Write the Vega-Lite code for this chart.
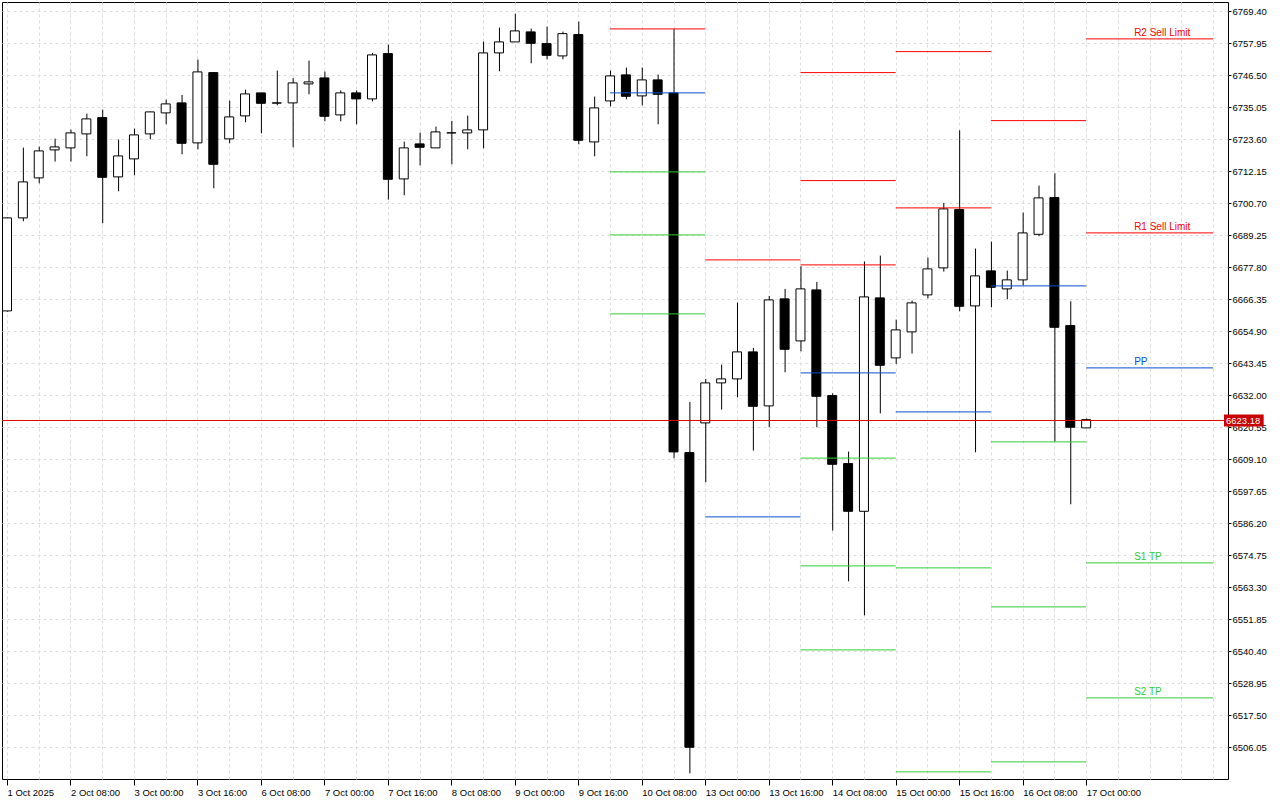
{
  "$schema": "https://vega.github.io/schema/vega-lite/v6.json",
  "width": 1226,
  "height": 777,
  "autosize": {"type": "none"},
  "padding": {"left": 2, "top": 2, "right": 52, "bottom": 21},
  "background": "white",
  "config": {
    "view": {"stroke": "black", "strokeWidth": 1},
    "axis": {"labelFont": "Liberation Sans", "labelFontSize": 9.5, "labelColor": "black", "tickColor": "black", "domain": false}
  },
  "datasets": {
    "candles": [
      {"i":0,"t":"2025-10-01 16:00","o":6662.09,"h":6695.50,"l":6661.84,"c":6695.37},
      {"i":1,"t":"2025-10-01 20:00","o":6695.37,"h":6720.52,"l":6694.15,"c":6708.25},
      {"i":2,"t":"2025-10-02 00:00","o":6709.68,"h":6720.88,"l":6707.75,"c":6719.34},
      {"i":3,"t":"2025-10-02 04:00","o":6719.70,"h":6723.74,"l":6715.51,"c":6720.77},
      {"i":4,"t":"2025-10-02 08:00","o":6720.42,"h":6726.96,"l":6715.51,"c":6725.78},
      {"i":5,"t":"2025-10-02 12:00","o":6725.43,"h":6732.69,"l":6717.41,"c":6730.79},
      {"i":6,"t":"2025-10-02 16:00","o":6731.26,"h":6734.12,"l":6693.44,"c":6709.90},
      {"i":7,"t":"2025-10-02 20:00","o":6710.04,"h":6723.39,"l":6704.89,"c":6717.55},
      {"i":8,"t":"2025-10-03 00:00","o":6716.48,"h":6727.32,"l":6710.61,"c":6725.07},
      {"i":9,"t":"2025-10-03 04:00","o":6725.43,"h":6733.41,"l":6723.49,"c":6733.30},
      {"i":10,"t":"2025-10-03 08:00","o":6732.94,"h":6737.70,"l":6728.86,"c":6736.16},
      {"i":11,"t":"2025-10-03 12:00","o":6736.52,"h":6739.38,"l":6718.13,"c":6722.06},
      {"i":12,"t":"2025-10-03 16:00","o":6722.21,"h":6752.01,"l":6719.92,"c":6747.61},
      {"i":13,"t":"2025-10-03 20:00","o":6747.36,"h":6747.36,"l":6705.96,"c":6714.55},
      {"i":14,"t":"2025-10-06 00:00","o":6723.64,"h":6737.34,"l":6722.06,"c":6731.51},
      {"i":15,"t":"2025-10-06 04:00","o":6731.87,"h":6741.28,"l":6729.58,"c":6739.74},
      {"i":16,"t":"2025-10-06 08:00","o":6740.10,"h":6740.10,"l":6725.64,"c":6736.37},
      {"i":17,"t":"2025-10-06 12:00","o":6736.52,"h":6748.08,"l":6735.66,"c":6736.45},
      {"i":18,"t":"2025-10-06 16:00","o":6736.52,"h":6745.46,"l":6720.63,"c":6743.67},
      {"i":19,"t":"2025-10-06 20:00","o":6743.32,"h":6751.65,"l":6739.60,"c":6744.03},
      {"i":20,"t":"2025-10-07 00:00","o":6745.46,"h":6747.72,"l":6729.93,"c":6731.72},
      {"i":21,"t":"2025-10-07 04:00","o":6732.22,"h":6741.03,"l":6729.93,"c":6740.10},
      {"i":22,"t":"2025-10-07 08:00","o":6740.10,"h":6741.03,"l":6728.86,"c":6737.95},
      {"i":23,"t":"2025-10-07 12:00","o":6737.95,"h":6754.41,"l":6737.09,"c":6753.69},
      {"i":24,"t":"2025-10-07 16:00","o":6754.16,"h":6757.38,"l":6701.92,"c":6709.18},
      {"i":25,"t":"2025-10-07 20:00","o":6709.32,"h":6722.67,"l":6703.46,"c":6720.42},
      {"i":26,"t":"2025-10-08 00:00","o":6721.85,"h":6725.89,"l":6714.19,"c":6720.63},
      {"i":27,"t":"2025-10-08 04:00","o":6720.42,"h":6728.04,"l":6720.42,"c":6726.14},
      {"i":28,"t":"2025-10-08 08:00","o":6725.78,"h":6730.08,"l":6714.55,"c":6725.80},
      {"i":29,"t":"2025-10-08 12:00","o":6725.78,"h":6731.97,"l":6719.92,"c":6726.86},
      {"i":30,"t":"2025-10-08 16:00","o":6726.86,"h":6758.45,"l":6720.27,"c":6754.41},
      {"i":31,"t":"2025-10-08 20:00","o":6754.41,"h":6763.46,"l":6747.82,"c":6758.34},
      {"i":32,"t":"2025-10-09 00:00","o":6758.34,"h":6768.47,"l":6758.34,"c":6762.28},
      {"i":33,"t":"2025-10-09 04:00","o":6761.92,"h":6763.10,"l":6750.69,"c":6757.84},
      {"i":34,"t":"2025-10-09 08:00","o":6757.74,"h":6763.82,"l":6752.12,"c":6753.55},
      {"i":35,"t":"2025-10-09 12:00","o":6753.33,"h":6762.03,"l":6752.12,"c":6761.31},
      {"i":36,"t":"2025-10-09 16:00","o":6760.96,"h":6765.61,"l":6721.70,"c":6723.14},
      {"i":37,"t":"2025-10-09 20:00","o":6722.56,"h":6738.77,"l":6717.41,"c":6734.73},
      {"i":38,"t":"2025-10-10 00:00","o":6737.23,"h":6748.08,"l":6735.30,"c":6746.18},
      {"i":39,"t":"2025-10-10 04:00","o":6746.54,"h":6749.15,"l":6737.81,"c":6738.88},
      {"i":40,"t":"2025-10-10 08:00","o":6739.02,"h":6749.15,"l":6735.66,"c":6744.75},
      {"i":41,"t":"2025-10-10 12:00","o":6744.75,"h":6746.64,"l":6728.86,"c":6739.60},
      {"i":42,"t":"2025-10-10 16:00","o":6740.10,"h":6762.99,"l":6609.35,"c":6611.64},
      {"i":43,"t":"2025-10-10 20:00","o":6611.39,"h":6629.53,"l":6496.64,"c":6505.95},
      {"i":44,"t":"2025-10-13 00:00","o":6622.02,"h":6637.76,"l":6600.77,"c":6636.33},
      {"i":45,"t":"2025-10-13 04:00","o":6636.33,"h":6642.88,"l":6626.78,"c":6637.76},
      {"i":46,"t":"2025-10-13 08:00","o":6637.76,"h":6665.06,"l":6631.18,"c":6647.42},
      {"i":47,"t":"2025-10-13 12:00","o":6647.42,"h":6648.86,"l":6612.11,"c":6627.96},
      {"i":48,"t":"2025-10-13 16:00","o":6628.10,"h":6667.46,"l":6620.45,"c":6666.03},
      {"i":49,"t":"2025-10-13 20:00","o":6666.39,"h":6669.97,"l":6640.12,"c":6648.35},
      {"i":50,"t":"2025-10-14 00:00","o":6651.36,"h":6678.05,"l":6647.64,"c":6669.97},
      {"i":51,"t":"2025-10-14 04:00","o":6669.61,"h":6672.47,"l":6620.45,"c":6631.54},
      {"i":52,"t":"2025-10-14 08:00","o":6631.79,"h":6632.61,"l":6583.48,"c":6607.21},
      {"i":53,"t":"2025-10-14 12:00","o":6607.46,"h":6611.75,"l":6565.34,"c":6590.39},
      {"i":54,"t":"2025-10-14 16:00","o":6590.39,"h":6679.73,"l":6553.18,"c":6667.10},
      {"i":55,"t":"2025-10-14 20:00","o":6666.75,"h":6681.88,"l":6625.45,"c":6642.63},
      {"i":56,"t":"2025-10-15 00:00","o":6645.28,"h":6658.98,"l":6643.13,"c":6655.30},
      {"i":57,"t":"2025-10-15 04:00","o":6654.58,"h":6665.78,"l":6646.82,"c":6664.96},
      {"i":58,"t":"2025-10-15 08:00","o":6667.82,"h":6681.17,"l":6666.60,"c":6677.12},
      {"i":59,"t":"2025-10-15 12:00","o":6677.48,"h":6700.74,"l":6676.16,"c":6698.59},
      {"i":60,"t":"2025-10-15 16:00","o":6698.34,"h":6726.71,"l":6661.95,"c":6663.74},
      {"i":61,"t":"2025-10-15 20:00","o":6663.88,"h":6684.39,"l":6611.50,"c":6674.62},
      {"i":62,"t":"2025-10-16 00:00","o":6676.41,"h":6686.89,"l":6663.38,"c":6670.54},
      {"i":63,"t":"2025-10-16 04:00","o":6669.97,"h":6676.51,"l":6666.24,"c":6673.19},
      {"i":64,"t":"2025-10-16 08:00","o":6673.19,"h":6697.27,"l":6671.25,"c":6690.00},
      {"i":65,"t":"2025-10-16 12:00","o":6689.50,"h":6706.93,"l":6688.79,"c":6702.53},
      {"i":66,"t":"2025-10-16 16:00","o":6702.63,"h":6711.33,"l":6615.33,"c":6656.23},
      {"i":67,"t":"2025-10-16 20:00","o":6656.83,"h":6665.53,"l":6592.89,"c":6620.45},
      {"i":68,"t":"2025-10-17 00:00","o":6620.23,"h":6623.56,"l":6620.23,"c":6623.18}
    ],
    "pivots": [
      {"day":"2025-10-10","kind":"R","from":38,"to":44,"price":6762.99},
      {"day":"2025-10-10","kind":"PP","from":38,"to":44,"price":6740.10},
      {"day":"2025-10-10","kind":"S","from":38,"to":44,"price":6711.83},
      {"day":"2025-10-10","kind":"S","from":38,"to":44,"price":6689.29},
      {"day":"2025-10-10","kind":"S","from":38,"to":44,"price":6661.02},
      {"day":"2025-10-13","kind":"R","from":44,"to":50,"price":6680.34},
      {"day":"2025-10-13","kind":"PP","from":44,"to":50,"price":6588.39},
      {"day":"2025-10-14","kind":"R","from":50,"to":56,"price":6747.36},
      {"day":"2025-10-14","kind":"R","from":50,"to":56,"price":6708.72},
      {"day":"2025-10-14","kind":"R","from":50,"to":56,"price":6678.55},
      {"day":"2025-10-14","kind":"PP","from":50,"to":56,"price":6639.91},
      {"day":"2025-10-14","kind":"S","from":50,"to":56,"price":6609.42},
      {"day":"2025-10-14","kind":"S","from":50,"to":56,"price":6570.85},
      {"day":"2025-10-14","kind":"S","from":50,"to":56,"price":6540.80},
      {"day":"2025-10-15","kind":"R","from":56,"to":62,"price":6754.87},
      {"day":"2025-10-15","kind":"R","from":56,"to":62,"price":6698.95},
      {"day":"2025-10-15","kind":"PP","from":56,"to":62,"price":6625.95},
      {"day":"2025-10-15","kind":"S","from":56,"to":62,"price":6570.14},
      {"day":"2025-10-15","kind":"S","from":56,"to":62,"price":6497.15},
      {"day":"2025-10-16","kind":"R","from":62,"to":68,"price":6730.18},
      {"day":"2025-10-16","kind":"PP","from":62,"to":68,"price":6671.04},
      {"day":"2025-10-16","kind":"S","from":62,"to":68,"price":6615.22},
      {"day":"2025-10-16","kind":"S","from":62,"to":68,"price":6556.18},
      {"day":"2025-10-16","kind":"S","from":62,"to":68,"price":6500.72},
      {"day":"2025-10-17","kind":"R","from":68,"to":76,"price":6759.42,"label":"R2 Sell Limit"},
      {"day":"2025-10-17","kind":"R","from":68,"to":76,"price":6690.00,"label":"R1 Sell Limit"},
      {"day":"2025-10-17","kind":"PP","from":68,"to":76,"price":6641.70,"label":"PP"},
      {"day":"2025-10-17","kind":"S","from":68,"to":76,"price":6571.93,"label":"S1 TP"},
      {"day":"2025-10-17","kind":"S","from":68,"to":76,"price":6523.62,"label":"S2 TP"}
    ],
    "last": [{"price": 6623.18}]
  },
  "resolve": {"axis": {"x": "independent", "y": "independent"}},
  "layer": [
    {
      "data": {"name": "candles"},
      "mark": {"type": "rule", "color": "black", "strokeWidth": 1, "xOffset": 0.5},
      "encoding": {
        "x": {"field": "i", "type": "quantitative", "title": null,
          "scale": {"domain": [0, 76.625], "nice": false, "zero": false},
          "axis": {"orient": "bottom", "values": [0,4,8,12,16,20,24,28,32,36,40,44,48,52,56,60,64,68],
            "labelExpr": "['1 Oct 2025','2 Oct 08:00','3 Oct 00:00','3 Oct 16:00','6 Oct 08:00','7 Oct 00:00','7 Oct 16:00','8 Oct 08:00','9 Oct 00:00','9 Oct 16:00','10 Oct 08:00','13 Oct 00:00','13 Oct 16:00','14 Oct 08:00','15 Oct 00:00','15 Oct 16:00','16 Oct 08:00','17 Oct 00:00'][round(datum.value/4)]",
            "labelAlign": "left", "labelBaseline": "top", "tickSize": 6, "labelPadding": 2,
            "grid": false, "labelFlush": false, "labelOverlap": false, "labelBound": false}},
        "y": {"field": "l", "type": "quantitative", "title": null,
          "scale": {"domain": [6494.6, 6772.6203125], "nice": false, "zero": false},
          "axis": {"orient": "right",
            "values": [6506.05,6517.5,6528.95,6540.4,6551.85,6563.3,6574.75,6586.2,6597.65,6609.1,6620.55,6632,6643.45,6654.9,6666.35,6677.8,6689.25,6700.7,6712.15,6723.6,6735.05,6746.5,6757.95,6769.4],
            "format": ".2f", "tickSize": 3, "labelPadding": 1, "labelBaseline": "middle",
            "grid": true, "gridColor": "#dcdcdc", "gridDash": [3, 3],
            "labelFlush": false, "labelOverlap": false}},
        "y2": {"field": "h"}
      }
    },
    {
      "data": {"name": "candles"},
      "mark": {"type": "bar", "width": 9, "stroke": "black", "strokeWidth": 1},
      "encoding": {
        "x": {"field": "i", "type": "quantitative", "scale": {"domain": [0, 76.625], "nice": false, "zero": false}, "axis": null},
        "y": {"field": "o", "type": "quantitative", "scale": {"domain": [6494.6, 6772.6203125], "nice": false, "zero": false}, "axis": null},
        "y2": {"field": "c"},
        "fill": {"condition": {"test": "datum.c < datum.o", "value": "black"}, "value": "white"}
      }
    },
    {
      "data": {"name": "pivots"},
      "mark": {"type": "rule", "strokeWidth": 1},
      "encoding": {
        "x": {"field": "from", "type": "quantitative", "title": null,
          "scale": {"domain": [0, 76.625], "nice": false, "zero": false},
          "axis": {"orient": "top", "values": [0,2,4,6,8,10,12,14,16,18,20,22,24,26,28,30,32,34,36,38,40,42,44,46,48,50,52,54,56,58,60,62,64,66,68,70,72,74,76],
            "grid": true, "gridColor": "#dcdcdc", "gridDash": [3, 3], "labels": false, "ticks": false, "domain": false}},
        "x2": {"field": "to"},
        "y": {"field": "price", "type": "quantitative", "scale": {"domain": [6494.6, 6772.6203125], "nice": false, "zero": false}, "axis": null},
        "color": {"field": "kind", "type": "nominal", "scale": {"domain": ["R", "PP", "S"], "range": ["#ff0000", "#0a50d2", "#32cd32"]}, "legend": null}
      }
    },
    {
      "data": {"name": "last"},
      "mark": {"type": "rule", "color": "#e00000", "strokeWidth": 1, "yOffset": 0.85},
      "encoding": {
        "y": {"field": "price", "type": "quantitative", "scale": {"domain": [6494.6, 6772.6203125], "nice": false, "zero": false}, "axis": null}
      }
    },
    {
      "data": {"name": "pivots"},
      "transform": [{"filter": "isValid(datum.label)"}],
      "mark": {"type": "text", "align": "left", "baseline": "alphabetic", "dx": 48, "dy": -3, "font": "Liberation Sans", "fontSize": 10},
      "encoding": {
        "x": {"field": "from", "type": "quantitative", "scale": {"domain": [0, 76.625], "nice": false, "zero": false}, "axis": null},
        "y": {"field": "price", "type": "quantitative", "scale": {"domain": [6494.6, 6772.6203125], "nice": false, "zero": false}, "axis": null},
        "text": {"field": "label"},
        "color": {"field": "kind", "type": "nominal", "scale": {"domain": ["R", "PP", "S"], "range": ["#ff0000", "#0a50d2", "#32cd32"]}, "legend": null}
      }
    },
    {
      "data": {"name": "last"},
      "mark": {"type": "rule", "color": "#c80000", "strokeWidth": 12, "strokeCap": "butt", "clip": false, "yOffset": 0.85},
      "encoding": {
        "x": {"datum": 76.6875, "type": "quantitative", "scale": {"domain": [0, 76.625], "nice": false, "zero": false}, "axis": null},
        "x2": {"datum": 79.1875},
        "y": {"field": "price", "type": "quantitative", "scale": {"domain": [6494.6, 6772.6203125], "nice": false, "zero": false}, "axis": null}
      }
    },
    {
      "data": {"name": "last"},
      "mark": {"type": "text", "align": "left", "baseline": "middle", "dx": 2, "dy": 1, "color": "white", "font": "Liberation Sans", "fontSize": 9.5, "clip": false},
      "encoding": {
        "x": {"datum": 76.6875, "type": "quantitative", "scale": {"domain": [0, 76.625], "nice": false, "zero": false}, "axis": null},
        "y": {"field": "price", "type": "quantitative", "scale": {"domain": [6494.6, 6772.6203125], "nice": false, "zero": false}, "axis": null},
        "text": {"field": "price", "type": "quantitative", "format": ".2f"}
      }
    }
  ]
}
